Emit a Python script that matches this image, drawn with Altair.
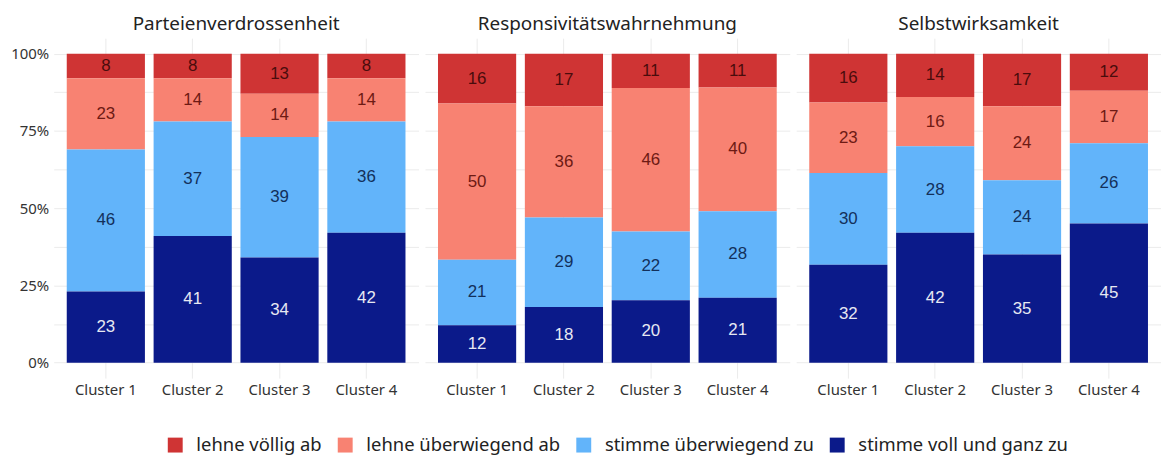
import altair as alt
import pandas as pd

panels = ["Parteienverdrossenheit", "Responsivitätswahrnehmung", "Selbstwirksamkeit"]
clusters = ["Cluster 1", "Cluster 2", "Cluster 3", "Cluster 4"]
categories = ["lehne völlig ab", "lehne überwiegend ab", "stimme überwiegend zu", "stimme voll und ganz zu"]

# values ordered panel-major, cluster-minor
voellig_ab = [8, 8, 13, 8, 16, 17, 11, 11, 16, 14, 17, 12]
ueberwiegend_ab = [23, 14, 14, 14, 50, 36, 46, 40, 23, 16, 24, 17]
ueberwiegend_zu = [46, 37, 39, 36, 21, 29, 22, 28, 30, 28, 24, 26]
voll_zu = [23, 41, 34, 42, 12, 18, 20, 21, 32, 42, 35, 45]

bar_colors = ["#cf3434", "#f88272", "#62b4fa", "#0b1a8a"]
text_colors = ["#4a0c0c", "#6e1a14", "#13305a", "#e6e8f2"]

series = [voellig_ab, ueberwiegend_ab, ueberwiegend_zu, voll_zu]
rows = []
for ci, (cat, vals) in enumerate(zip(categories, series)):
    for i, v in enumerate(vals):
        rows.append({
            "panel": panels[i // 4],
            "cluster": clusters[i % 4],
            "cat": cat,
            "value": v,
            "order": 3 - ci,
        })
df = pd.DataFrame(rows)

tcolor_expr = " : ".join(
    f"datum.cat === '{c}' ? '{t}'" for c, t in zip(categories[:-1], text_colors[:-1])
) + f" : '{text_colors[-1]}'"

x_enc = alt.X(
    "cluster:N",
    sort=clusters,
    scale=alt.Scale(paddingInner=0.1, paddingOuter=0.15),
    axis=alt.Axis(title=None, labelAngle=0, ticks=False, domain=False, grid=True,
                  bandPosition=0.5, labelPadding=4),
)

y_vals = [0, 0.125, 0.25, 0.375, 0.5, 0.625, 0.75, 0.875, 1.0]
y_enc = alt.Y(
    "y0:Q",
    scale=alt.Scale(domain=[-0.05, 1.05], nice=False, zero=False),
    axis=alt.Axis(title=None, values=y_vals, ticks=False, domain=False, labelPadding=5,
                  labelExpr="indexof([0, 0.25, 0.5, 0.75, 1], datum.value) >= 0 ? format(datum.value, '.0%') : ''"),
)

bars = alt.Chart().mark_bar().encode(
    x=x_enc,
    y=y_enc,
    y2="y1:Q",
    color=alt.Color("cat:N", scale=alt.Scale(domain=categories, range=bar_colors),
                    legend=alt.Legend(title=None, orient="none", direction="horizontal",
                                      legendX=113, legendY=400, labelLimit=400)),
)

text = alt.Chart().mark_text(font="Liberation Sans", fontSize=17).encode(
    x=alt.X("cluster:N", sort=clusters),
    y=alt.Y("mid:Q"),
    text="value:Q",
    color=alt.Color("tcolor:N", scale=None, legend=None),
)

layer = alt.layer(bars, text, data=df).transform_stack(
    stack="value",
    groupby=["panel", "cluster"],
    sort=[alt.SortField("order", order="ascending")],
    as_=["y0", "y1"],
    offset="normalize",
).transform_calculate(
    mid="(datum.y0 + datum.y1) / 2",
    tcolor=tcolor_expr,
).properties(width=367, height=342)

chart = layer.facet(
    column=alt.Column("panel:N", sort=panels,
                      header=alt.Header(title=None, labelFontSize=19, labelFont="Noto Sans",
                                        labelColor="#222222", labelPadding=4)),
    spacing=6.5,
).properties(
    padding={"left": 2, "top": 6, "right": 0, "bottom": 0}
).configure_view(
    stroke=None
).configure_axis(
    gridColor="#ebebeb", gridWidth=1, labelFont="Noto Sans", labelFontSize=15, labelColor="#333333"
).configure_legend(
    symbolType="square", symbolSize=225, symbolStrokeWidth=0, labelFont="Noto Sans",
    labelFontSize=18.5, labelColor="#222222", columnPadding=14, labelOffset=12, symbolOpacity=1
)

chart.save("out.html", embed_options={"renderer": "svg", "actions": False})
